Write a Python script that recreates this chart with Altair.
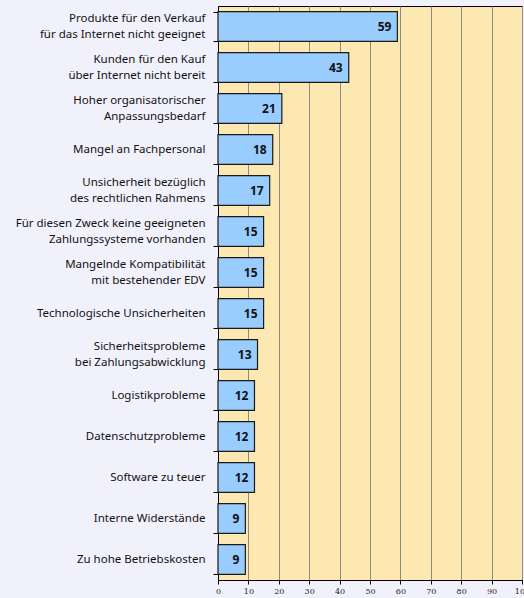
import altair as alt
import pandas as pd

labels = [
    "Produkte für den Verkauf|für das Internet nicht geeignet",
    "Kunden für den Kauf|über Internet nicht bereit",
    "Hoher organisatorischer|Anpassungsbedarf",
    "Mangel an Fachpersonal",
    "Unsicherheit bezüglich|des rechtlichen Rahmens",
    "Für diesen Zweck keine geeigneten|Zahlungssysteme vorhanden",
    "Mangelnde Kompatibilität|mit bestehender EDV",
    "Technologische Unsicherheiten",
    "Sicherheitsprobleme|bei Zahlungsabwicklung",
    "Logistikprobleme",
    "Datenschutzprobleme",
    "Software zu teuer",
    "Interne Widerstände",
    "Zu hohe Betriebskosten",
]
values = [59, 43, 21, 18, 17, 15, 15, 15, 13, 12, 12, 12, 9, 9]
x_ticks = [0, 10, 20, 30, 40, 50, 60, 70, 80, 90, 100]

df = pd.DataFrame({"label": labels, "value": values})

y_enc = alt.Y(
    "label:N",
    sort=labels,
    title=None,
    scale=alt.Scale(paddingInner=0.27, paddingOuter=0.135),
    axis=alt.Axis(
        labelExpr="split(datum.label, '|')",
        labelFont="Noto Sans",
        labelFontSize=11.5,
        labelColor="#111",
        labelLineHeight=16,
        labelBaseline="middle",
        labelOffset={
            "condition": {"test": "indexof(datum.label, '|') >= 0", "value": -8},
            "value": 0,
        },
        labelPadding=8,
        tickBand="extent",
        tickSize=5,
        tickColor="#000",
        domainColor="#000",
        labelLimit=400,
    ),
)

x_enc = alt.X(
    "value:Q",
    title=None,
    scale=alt.Scale(domain=[0, 100], nice=False),
    axis=alt.Axis(
        values=x_ticks,
        labelFont="DejaVu Serif",
        labelFontSize=8,
        labelColor="#222",
        labelOverlap=False,
        labelFlush=False,
        tickSize=4,
        tickColor="#000",
        domainColor="#000",
        grid=True,
        gridColor="#8a8a8a",
        gridWidth=1,
        labelPadding=3,
    ),
)

base = alt.Chart(df).encode(x=x_enc, y=y_enc)

bars = base.mark_bar(color="#99CCFF", stroke="#1a1a1a", strokeWidth=1.2)

text = base.mark_text(
    align="right", baseline="middle", dx=-6, font="Noto Sans",
    fontSize=12, fontWeight="bold", color="#111"
).encode(text="value:Q")

chart = (
    alt.layer(bars, text)
    .properties(
        width=304,
        height=574,
        background="#F1F1FB",
        autosize=alt.AutoSizeParams(type="none"),
        padding={"left": 218, "top": 6, "right": 2, "bottom": 18},
    )
    .configure_view(fill="#FDE8B2", stroke="#000", strokeWidth=1)
)

chart.save("out.html", embed_options={"renderer": "svg", "actions": False})
